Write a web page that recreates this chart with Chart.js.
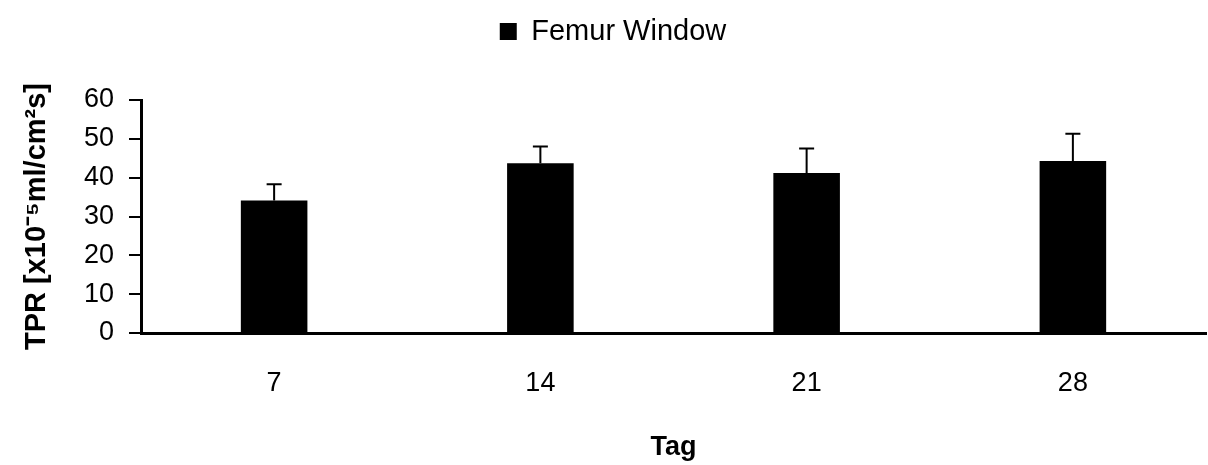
<!DOCTYPE html>
<html>
<head>
<meta charset="utf-8">
<script src="https://cdn.jsdelivr.net/npm/chart.js@4.4.1/dist/chart.umd.min.js"></script>
<style>
  html, body { margin: 0; padding: 0; background: #fff; }
  #wrap { width: 1208px; height: 465px; }
</style>
</head>
<body>
<div id="wrap"><canvas id="tprChart"></canvas></div>
<script>
// Werte
const days = ["7", "14", "21", "28"];
const femurTPR = [34.1, 43.7, 41.2, 44.3];
const femurSD = [4.2, 4.3, 6.3, 7.0];
const yMin = 0, yMax = 60, yStep = 10;

const FONT = "'Liberation Sans', Arial, sans-serif";

// Fehlerbalken (nur nach oben, mit Querstrich)
const errorBars = {
  id: "errorBars",
  afterDatasetsDraw(chart) {
    const ctx = chart.ctx;
    const yScale = chart.scales.y;
    const meta = chart.getDatasetMeta(0);
    ctx.save();
    ctx.strokeStyle = "#000";
    ctx.lineWidth = 2;
    meta.data.forEach((bar, i) => {
      const top = yScale.getPixelForValue(femurTPR[i] + femurSD[i]);
      ctx.beginPath();
      ctx.moveTo(bar.x, bar.y);
      ctx.lineTo(bar.x, top);
      ctx.moveTo(bar.x - 7.5, top);
      ctx.lineTo(bar.x + 7.5, top);
      ctx.stroke();
    });
    ctx.restore();
  },
};

// mehr Abstand unter der Legende, Legende etwas nach rechts
const legendGap = {
  id: "legendGap",
  beforeInit(chart) {
    const origFit = chart.legend.fit;
    chart.legend.fit = function () {
      origFit.call(this);
      this.height += 44;
    };
    const origDraw = chart.legend.draw;
    chart.legend.draw = function () {
      this.ctx.save();
      this.ctx.translate(10, 0);
      origDraw.call(this);
      this.ctx.restore();
    };
  },
};

new Chart(document.getElementById("tprChart"), {
  type: "bar",
  data: {
    labels: days,
    datasets: [
      {
        label: "Femur Window",
        data: femurTPR,
        backgroundColor: "#000",
        borderColor: "#000",
        borderWidth: 0,
        categoryPercentage: 1,
        barPercentage: 0.25,
      },
    ],
  },
  options: {
    responsive: true,
    maintainAspectRatio: false,
    animation: false,
    layout: { padding: { top: 0, left: 0, right: 2, bottom: 0 } },
    plugins: {
      legend: {
        position: "top",
        labels: {
          color: "#000",
          font: { family: FONT, size: 29 },
          boxWidth: 17,
          boxHeight: 17,
          padding: 17,
        },
      },
      tooltip: { enabled: false },
    },
    scales: {
      x: {
        afterFit: (s) => { s.height = 132; },
        grid: { display: true, drawOnChartArea: false, drawTicks: false },
        border: { display: true, color: "#000", width: 3 },
        ticks: { color: "#000", font: { family: FONT, size: 27 }, padding: 34 },
        title: {
          display: true,
          text: "Tag",
          color: "#000",
          font: { family: FONT, size: 27, weight: "bold" },
          padding: { top: 0, bottom: 1 },
        },
      },
      y: {
        min: yMin,
        max: yMax,
        afterFit: (s) => { s.width = 141; },
        grid: {
          drawOnChartArea: false,
          drawTicks: true,
          tickLength: 12,
          color: "#000",
          lineWidth: 2,
        },
        border: { display: true, color: "#000", width: 3 },
        ticks: {
          stepSize: yStep,
          color: "#000",
          font: { family: FONT, size: 27 },
          padding: 15,
        },
        title: {
          display: true,
          text: "TPR [x10\u207B\u2075ml/cm\u00B2s]",
          color: "#000",
          font: { family: FONT, size: 29, weight: "bold" },
          padding: { top: 20, bottom: 0 },
        },
      },
    },
  },
  plugins: [errorBars, legendGap],
});
</script>
</body>
</html>
